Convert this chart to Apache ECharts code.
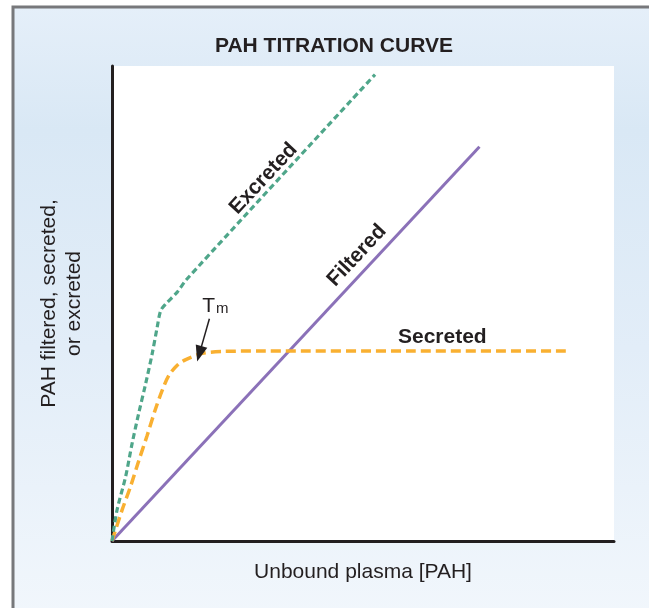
<!DOCTYPE html>
<html>
<head>
<meta charset="utf-8">
<script src="https://cdn.jsdelivr.net/npm/echarts@6/dist/echarts.min.js"></script>
<style>
  html, body { margin: 0; padding: 0; background: #ffffff; }
  #chart { width: 649px; height: 608px; }
</style>
</head>
<body>
<div id="chart"></div>
<script>
// Unbound plasma PAH concentration (arbitrary units, 0-100) and PAH amounts
const filteredX = [0, 73.2];
const filteredY = [0, 83];

const secretedX = [0, 2, 3.7, 5.3, 7, 8.7, 10, 11.3, 13, 14.7, 18, 22, 30, 60, 90.4];
const secretedY = [0, 6.5, 11.5, 16.8, 22.2, 27.9, 31.7, 34.8, 37, 38.2, 39.5, 39.9, 40, 40, 40];

const excretedX = [0, 1, 2.7, 4, 5.3, 6.7, 8, 9, 9.7, 10.7, 13, 14.8, 52.4];
const excretedY = [0, 6.5, 13.5, 20.5, 26.8, 33.1, 39.4, 45, 48.5, 49.9, 52.4, 55, 98.2];

const titleText = 'PAH TITRATION CURVE';
const xName = 'Unbound plasma [PAH]';
const yName = 'PAH filtered, secreted,\nor excreted';

const ink = '#231f20';
const font = '"Liberation Sans", Arial, Helvetica, sans-serif';

const zip = (xs, ys) => xs.map((x, i) => [x, ys[i]]);

// In-plot annotations anchored in data units
const curveLabels = [
  { name: 'Excreted', value: [30.2, 76.3], rotate: 47 },
  { name: 'Filtered', value: [48.8, 60.1], rotate: 47 },
  { name: 'Secreted', value: [65.8, 42.9], rotate: 0 }
];
const tmLabel = { value: [20.6, 49.6] };
const tmArrow = { from: [19.4, 46.8], to: [17.4, 39.4] };

const chart = echarts.init(document.getElementById('chart'), null, { renderer: 'canvas' });

const labelText = {
  fontFamily: font, fontSize: 21, fontWeight: 'bold', color: ink,
  textBorderWidth: 0, textShadowBlur: 0, opacity: 1
};

chart.setOption({
  animation: false,
  backgroundColor: 'transparent',
  graphic: [{
    type: 'rect',
    z: -100,
    silent: true,
    shape: { x: 13, y: 7, width: 660, height: 620 },
    style: {
      fill: new echarts.graphic.LinearGradient(0, 0, 0, 1, [
        { offset: 0, color: '#e5eff9' },
        { offset: 0.2, color: '#d9e8f5' },
        { offset: 0.55, color: '#e2edf8' },
        { offset: 1, color: '#f2f7fc' }
      ]),
      stroke: '#77787b',
      lineWidth: 3
    }
  }],
  title: {
    text: titleText,
    left: 329,
    top: 31,
    textAlign: 'center',
    textStyle: { fontFamily: font, fontSize: 21, fontWeight: 'bold', color: ink }
  },
  grid: {
    left: 112, right: 35, top: 66, bottom: 67,
    show: true, backgroundColor: '#ffffff', borderWidth: 0
  },
  xAxis: {
    type: 'value', min: 0, max: 100,
    name: xName, nameLocation: 'middle', nameGap: 19,
    nameTextStyle: { fontFamily: font, fontSize: 21, color: ink, lineHeight: 25 },
    axisLine: { show: true, onZero: false, lineStyle: { color: ink, width: 3 } },
    axisTick: { show: false }, axisLabel: { show: false }, splitLine: { show: false }
  },
  yAxis: {
    type: 'value', min: 0, max: 100,
    name: yName, nameLocation: 'middle', nameGap: 25,
    nameTextStyle: { fontFamily: font, fontSize: 21, color: ink, lineHeight: 25 },
    axisLine: { show: true, onZero: false, lineStyle: { color: ink, width: 3 } },
    axisTick: { show: false }, axisLabel: { show: false }, splitLine: { show: false }
  },
  series: [
    {
      name: 'Filtered', type: 'line', data: zip(filteredX, filteredY),
      symbol: 'none', z: 3,
      lineStyle: { color: '#8b71b8', width: 3 }
    },
    {
      name: 'Secreted', type: 'line', data: zip(secretedX, secretedY),
      symbol: 'none', smooth: 0.3, z: 4,
      lineStyle: { color: '#f9b031', width: 3.5, type: [10, 5] }
    },
    {
      name: 'Excreted', type: 'line', data: zip(excretedX, excretedY),
      symbol: 'none', smooth: 0.3, z: 4,
      lineStyle: { color: '#4fa68a', width: 3.2, type: [6, 3.5] }
    },
    {
      name: 'labels', type: 'scatter', symbolSize: 0, z: 6, silent: true,
      itemStyle: { opacity: 1 },
      data: curveLabels.map(d => ({
        name: d.name, value: d.value,
        label: Object.assign({
          show: true, position: 'inside', formatter: d.name, rotate: d.rotate
        }, labelText)
      })).concat([{
        name: 'Tm', value: tmLabel.value,
        label: {
          show: true, position: 'inside', formatter: '{t|T}{m|m}',
          textBorderWidth: 0,
          rich: {
            t: { fontFamily: font, fontSize: 21, color: ink, verticalAlign: 'bottom', lineHeight: 22, textBorderWidth: 0 },
            m: { fontFamily: font, fontSize: 15, color: ink, verticalAlign: 'bottom', lineHeight: 10, padding: [0, 0, 0, 1], textBorderWidth: 0 }
          }
        }
      }]),
      markLine: {
        silent: true, symbol: ['none', 'triangle'], symbolSize: [12, 16],
        label: { show: false },
        lineStyle: { color: ink, width: 1.5, type: 'solid' },
        data: [[{ coord: tmArrow.from }, { coord: tmArrow.to }]]
      }
    }
  ]
});
</script>
</body>
</html>
